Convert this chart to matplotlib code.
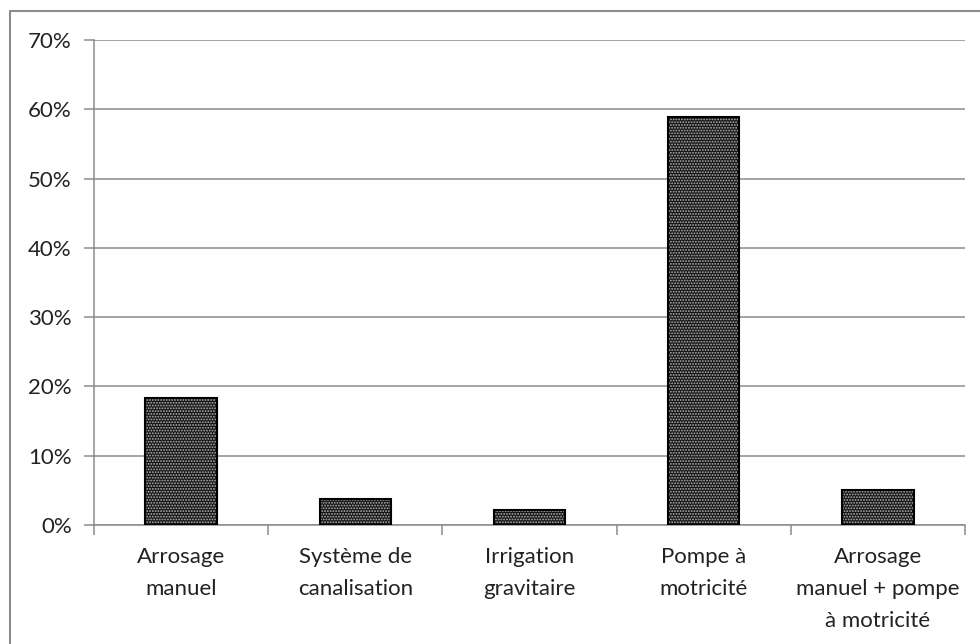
import numpy as np
import matplotlib.pyplot as plt
from matplotlib.patches import Rectangle
from matplotlib.ticker import PercentFormatter, FixedLocator

categories = ["Arrosage\nmanuel", "Système de\ncanalisation", "Irrigation\ngravitaire",
              "Pompe à\nmotricité", "Arrosage\nmanuel + pompe\nà motricité"]
shares = [18.3, 3.7, 2.1, 58.9, 5.1]  # percent of respondents
y_ticks = [0, 10, 20, 30, 40, 50, 60, 70]

plt.rcParams['font.family'] = ['Lato', 'DejaVu Sans']
plt.rcParams['hatch.linewidth'] = 0.9
plt.rcParams['hatch.color'] = '#b4b4b4'

fig = plt.figure(figsize=(9.8, 6.44), dpi=100)
ax = fig.add_axes([0.0959, 0.1848, 0.8888, 0.7531])

# outer frame of the chart area (only top and left show)
fig.patches.append(Rectangle((10 / 980, -0.1), 1.2, 1 - 11 / 644 + 0.1,
                             transform=fig.transFigure, fill=False,
                             edgecolor='#8c8c8c', linewidth=1.5, zorder=0))

x = np.arange(len(categories))
width = 0.41
# dark base, small light dots on top, then the black outline
ax.bar(x, shares, width, color='#141414', zorder=2)
ax.bar(x, shares, width, color='none', edgecolor='#b4b4b4', hatch='......',
       linewidth=0, zorder=3)
ax.bar(x, shares, width, color='none', edgecolor='black', linewidth=1.5, zorder=4)

ax.set_xlim(-0.5, len(categories) - 0.5)
ax.set_ylim(0, 70)
ax.yaxis.set_major_locator(FixedLocator(y_ticks))
ax.yaxis.set_major_formatter(PercentFormatter(decimals=0))
ax.grid(axis='y', color='#8c8c8c', linewidth=1.1, zorder=0)
ax.set_axisbelow(True)

ax.set_xticks(x)
ax.set_xticklabels(categories, fontsize=16, color='#222222', linespacing=1.75)
ax.set_xticks(np.arange(-0.5, len(categories)), minor=True)
ax.tick_params(axis='x', which='major', length=0, pad=16)
ax.tick_params(axis='x', which='minor', length=7, width=1.1, color='#8c8c8c')
ax.tick_params(axis='y', length=7, width=1.1, color='#8c8c8c', labelsize=16,
               labelcolor='#222222', pad=9)

for side in ['top', 'right']:
    ax.spines[side].set_visible(False)
for side in ['left', 'bottom']:
    ax.spines[side].set_color('#8c8c8c')
    ax.spines[side].set_linewidth(1.1)

fig.savefig('out.png', dpi=100)
